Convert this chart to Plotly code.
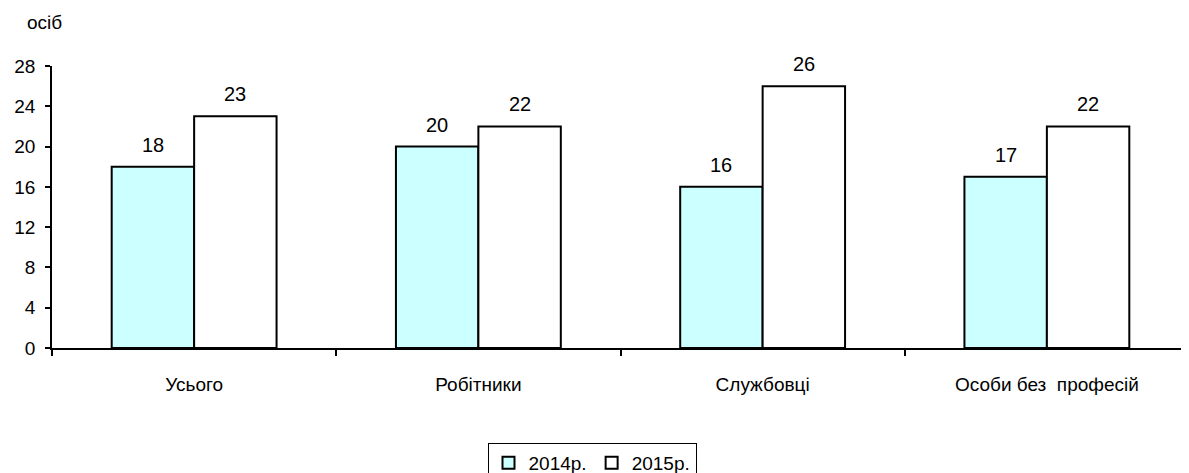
import plotly.graph_objects as go

categories = ["Усього", "Робітники", "Службовці", "Особи без  професій"]
series_2014 = [18, 20, 16, 17]
series_2015 = [23, 22, 26, 22]
series_names = ["2014р.", "2015р."]
y_ticks = [0, 4, 8, 12, 16, 20, 24, 28]

FONT = "Liberation Sans, Arial, sans-serif"

# page has an 8px body margin, so work in figure coords = reference px - 8
OFF = 8
W = 1189 - OFF
H = 473 - OFF
ml = 52 - OFF
mt = 66 - OFF
mb = H - (348 - OFF)
mr = 0
plot_h = H - mt - mb
plot_w = W - ml - mr
BARGAP = 0.42
bar_px = plot_w / len(categories) * (1 - BARGAP) / 2

fig = go.Figure()
fig.add_trace(go.Bar(
    x=categories, y=series_2014, name=series_names[0],
    marker=dict(color="#CCFFFF", line=dict(color="black", width=2)),
))
fig.add_trace(go.Bar(
    x=categories, y=series_2015, name=series_names[1],
    marker=dict(color="white", line=dict(color="black", width=2)),
))

annotations = []
for series, sign in ((series_2014, -1), (series_2015, 1)):
    for cat, val in zip(categories, series):
        annotations.append(dict(
            x=cat, y=val, xref="x", yref="y", text=str(val),
            showarrow=False, xanchor="center", yanchor="bottom",
            xshift=sign * bar_px / 2, yshift=9,
            font=dict(size=20, family=FONT, color="black"),
        ))
annotations.append(dict(
    text="осіб", xref="paper", yref="paper",
    x=(44 - 52) / plot_w, y=(348 - 22) / plot_h,
    xanchor="center", yanchor="middle", showarrow=False,
    font=dict(size=19, family=FONT, color="black"),
))

fig.update_layout(
    width=W, height=H,
    margin=dict(l=ml, r=mr, t=mt, b=mb, autoexpand=False),
    paper_bgcolor="white", plot_bgcolor="white",
    font=dict(family=FONT, size=19, color="black"),
    barmode="group", bargap=BARGAP, bargroupgap=0,
    showlegend=True,
    legend=dict(
        orientation="h", x=(592 - OFF - ml) / plot_w, xanchor="center",
        y=-(443 - 348) / plot_h, yanchor="top",
        bordercolor="black", borderwidth=1, bgcolor="white",
        font=dict(size=19, family=FONT), itemwidth=30,
        tracegroupgap=0,
    ),
    xaxis=dict(
        type="category", showline=True, linecolor="black", linewidth=1.5,
        ticks="outside", tickson="boundaries", ticklen=6, tickcolor="black",
        tickwidth=1.5, showgrid=False, tickfont=dict(size=19, family=FONT),
        automargin=False, ticklabelstandoff=18,
    ),
    yaxis=dict(
        range=[0, 28], tickvals=y_ticks, showline=True, linecolor="black",
        linewidth=1.5, ticks="outside", ticklen=5, tickcolor="black",
        tickwidth=1.5, showgrid=False, zeroline=False,
        tickfont=dict(size=19, family=FONT), automargin=False,
        ticklabelstandoff=6,
    ),
    annotations=annotations,
)

fig.write_html("out.html")
